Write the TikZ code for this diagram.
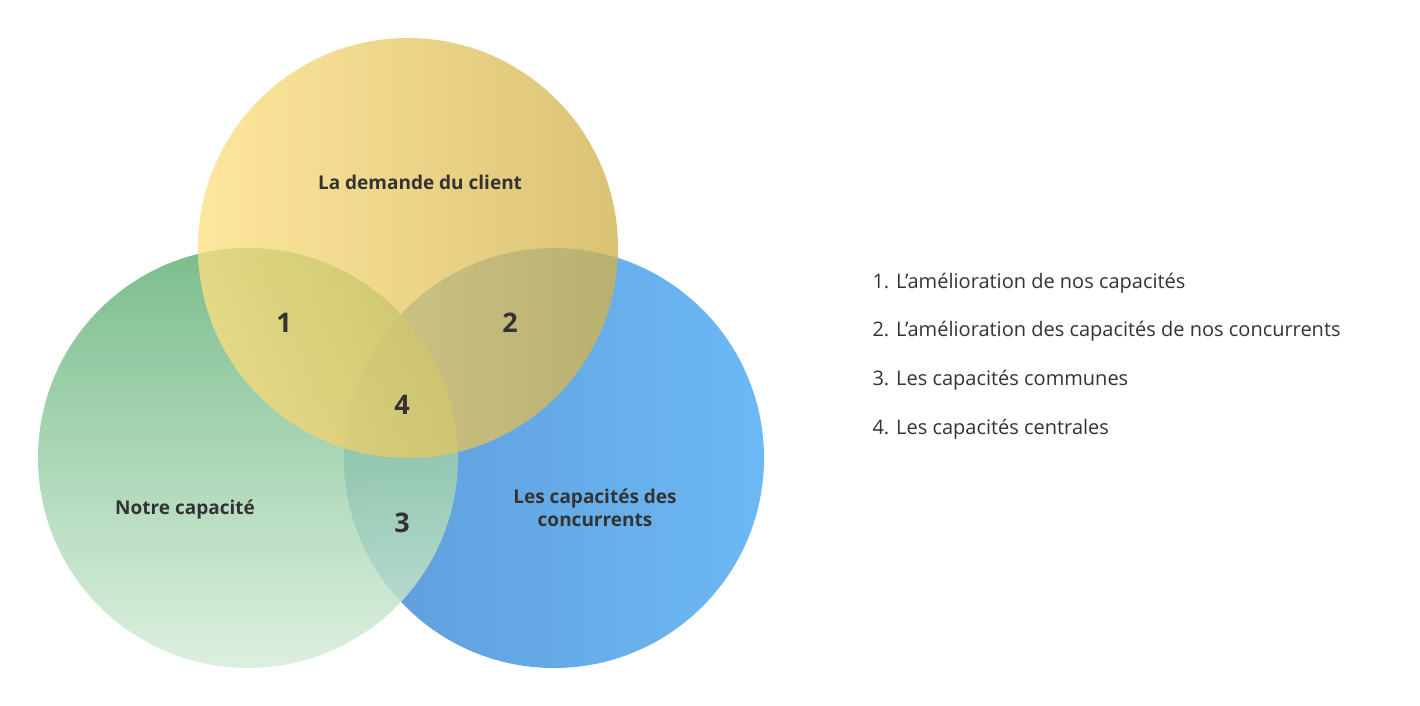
\documentclass[tikz,border=0pt]{standalone}
\usepackage{fontspec}
\setmainfont{Open Sans}
\definecolor{txt}{HTML}{333333}
\begin{document}
\begin{tikzpicture}[x=1pt,y=-1pt,
  lbl/.style={text=txt,font=\fontsize{19}{23}\selectfont\bfseries,align=center},
  num/.style={text=txt,font=\fontsize{27}{30}\selectfont\bfseries},
  leg/.style={text=txt,font=\fontsize{20}{24}\selectfont,anchor=west}]
\useasboundingbox (0,0) rectangle (1420,705);
\shade[left color={rgb,255:red,95;green,156;blue,218},right color={rgb,255:red,108;green,185;blue,245}] (554,458) circle (210);
\shade[top color={rgb,255:red,100;green,178;blue,122},bottom color={rgb,255:red,214;green,237;blue,218},fill opacity=0.85] (248,458) circle (210);
\shade[left color={rgb,255:red,253;green,224;blue,130},right color={rgb,255:red,208;green,178;blue,78},fill opacity=0.78] (408,248) circle (210);
\node[lbl] (t) at (420,182) {La demande du client};
\node[lbl] (g) at (185,509) {Notre capacité};
\node[lbl] (b) at (595,508) {Les capacités des\\concurrents};
\node[num] (n1) at (284,323) {1};
\node[num] (n2) at (510,323) {2};
\node[num] (n4) at (402,405) {4};
\node[num] (n3) at (402,523) {3};
\node[leg] (l1) at (869,283) {1. L'amélioration de nos capacités};
\node[leg] (l2) at (869,331) {2. L'amélioration des capacités de nos concurrents};
\node[leg] (l3) at (869,380) {3. Les capacités communes};
\node[leg] (l4) at (869,429) {4. Les capacités centrales};
\end{tikzpicture}
\end{document}
